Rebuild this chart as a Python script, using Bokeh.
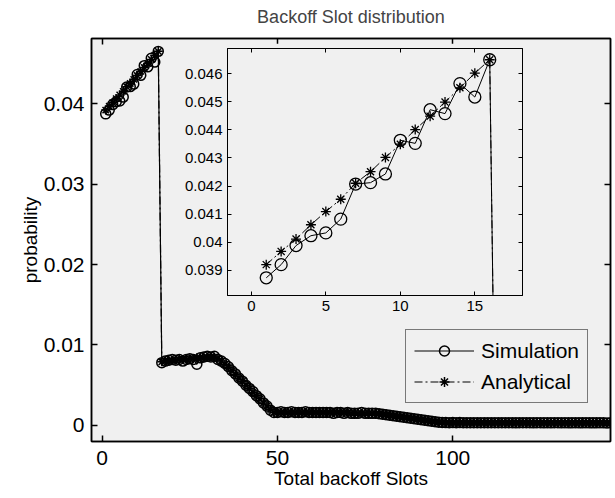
from bokeh.plotting import figure
from bokeh.models import (Range1d, FixedTicker, LinearAxis, PrintfTickFormatter, GridBox,
                          CustomLabelingPolicy)
from bokeh.embed import file_html
from bokeh.resources import INLINE

# ---------------- data ----------------
sim_values = [
    0.03873, 0.0392, 0.03988, 0.04023, 0.04033, 0.04082, 0.04207, 0.04212, 0.04243, 0.04363,
    0.04352, 0.04472, 0.04458, 0.04565, 0.04517, 0.0465, 0.0078, 0.0080, 0.0081, 0.0082,
    0.0081, 0.0082, 0.0080, 0.0082, 0.0083, 0.0082, 0.0076, 0.0084, 0.0085, 0.0086,
    0.0085, 0.0086, 0.0082, 0.0080, 0.0077, 0.0073, 0.0068, 0.0064, 0.0059, 0.0055,
    0.0050, 0.0046, 0.0042, 0.0037, 0.0033, 0.0028, 0.0024, 0.0019, 0.0016, 0.0016,
    0.0017, 0.0016, 0.0016, 0.0017, 0.0016, 0.0016, 0.0016, 0.0017, 0.0016, 0.0016,
    0.0016, 0.0016, 0.0016, 0.0016, 0.0016, 0.0015, 0.0016, 0.0016, 0.0015, 0.0016,
    0.0015, 0.0015, 0.0015, 0.0016, 0.0015, 0.0015, 0.0015, 0.0015, 0.00145, 0.0014,
    0.00134, 0.00127, 0.00121, 0.00114, 0.00108, 0.00101, 0.00096, 0.00089, 0.00083, 0.00077,
    0.0007, 0.00064, 0.00058, 0.00052, 0.00046, 0.0004, 0.00037, 0.00035, 0.00034, 0.00035,
    0.00034, 0.00035, 0.00034, 0.00033, 0.00034, 0.00034, 0.00033, 0.00034, 0.00033, 0.00034,
    0.00033, 0.00034, 0.00033, 0.00033, 0.00034, 0.00033, 0.00033, 0.00032, 0.00033, 0.00033,
    0.00034, 0.00033, 0.00032, 0.00033, 0.00033, 0.00032, 0.00033, 0.00032, 0.00033, 0.00033,
    0.00032, 0.00033, 0.00032, 0.00032, 0.00033, 0.00032, 0.00032, 0.00033, 0.00032, 0.00032,
    0.00032, 0.00033, 0.00032, 0.00031, 0.00032,
]
ana_values = [
    0.0392, 0.03967, 0.04011, 0.04062, 0.04109, 0.04153, 0.0421, 0.04251, 0.04302, 0.04349,
    0.04401, 0.04449, 0.04499, 0.0455, 0.04602, 0.0465, 0.0079, 0.0080, 0.0080, 0.0081,
    0.0081, 0.0082, 0.0082, 0.0082, 0.0083, 0.0083, 0.0084, 0.0084, 0.0084, 0.0085,
    0.0085, 0.0085, 0.0083, 0.0080, 0.0076, 0.0072, 0.0068, 0.0063, 0.0059, 0.0055,
    0.0050, 0.0046, 0.0041, 0.0037, 0.0033, 0.0028, 0.0024, 0.0020, 0.0016, 0.0016,
    0.0016, 0.0016, 0.0016, 0.0016, 0.0016, 0.0016, 0.0016, 0.0016, 0.0016, 0.0016,
    0.0016, 0.0016, 0.0016, 0.0016, 0.0016, 0.0016, 0.0016, 0.0016, 0.0016, 0.0016,
    0.0015, 0.0015, 0.0015, 0.0015, 0.0015, 0.0015, 0.0015, 0.0015, 0.00146, 0.0014,
    0.00133, 0.00127, 0.0012, 0.00114, 0.00108, 0.00102, 0.00095, 0.00089, 0.00083, 0.00077,
    0.00071, 0.00064, 0.00058, 0.00052, 0.00046, 0.0004, 0.00036, 0.00035, 0.00034, 0.00034,
    0.00034, 0.00034, 0.00034, 0.00034, 0.00033, 0.00033, 0.00033, 0.00033, 0.00033, 0.00033,
    0.00033, 0.00033, 0.00033, 0.00033, 0.00033, 0.00033, 0.00033, 0.00033, 0.00033, 0.00033,
    0.00033, 0.00033, 0.00032, 0.00032, 0.00032, 0.00032, 0.00032, 0.00032, 0.00032, 0.00032,
    0.00032, 0.00032, 0.00032, 0.00032, 0.00032, 0.00032, 0.00032, 0.00032, 0.00032, 0.00032,
    0.00032, 0.00032, 0.00032, 0.00032, 0.00032,
]
slots = list(range(1, len(sim_values) + 1))

main_xticks = [0, 50, 100]
main_xtick_labels = ["0", "50", "100"]
main_yticks = [0, 0.01, 0.02, 0.03, 0.04]
main_ytick_labels = ["0", "0.01", "0.02", "0.03", "0.04"]
inset_xticks = [0, 5, 10, 15]
inset_xtick_labels = ["0", "5", "10", "15"]
inset_yticks = [0.039, 0.04, 0.041, 0.042, 0.043, 0.044, 0.045, 0.046]
inset_ytick_labels = ["0.039", "0.04", "0.041", "0.042", "0.043", "0.044", "0.045", "0.046"]

FONT = "Liberation Sans"
BG = "#f0f0f0"


def style_axis(ax, ticks, labels, size, standoff, tick_len, lw, show=True):
    ax.ticker = FixedTicker(ticks=ticks)
    ax.formatter = PrintfTickFormatter(format="%g")
    ax.major_label_overrides = dict(zip(ticks, labels))
    ax.major_tick_in = tick_len
    ax.major_tick_out = 0
    ax.minor_tick_line_color = None
    ax.axis_line_width = lw
    ax.major_tick_line_width = lw
    ax.axis_line_color = "black"
    ax.major_tick_line_color = "black"
    ax.major_label_text_font = FONT
    ax.major_label_text_color = "black"
    if show:
        ax.major_label_text_font_size = f"{size}px"
        ax.major_label_standoff = standoff
    else:
        ax.major_label_text_font_size = "1px"
        ax.major_label_standoff = 0
        ax.major_label_policy = CustomLabelingPolicy(code="return new Set()")


# ---------------- main figure ----------------
p = figure(width=615, height=498, x_range=Range1d(-3.05, 145), y_range=Range1d(-0.002, 0.0481),
           output_backend="svg", toolbar_location=None,
           min_border_left=91, min_border_right=5, min_border_top=36, min_border_bottom=57,
           background_fill_color=BG, border_fill_color="white",
           title="Backoff Slot distribution")
p.title.align = "center"
p.title.vertical_align = "top"
p.title.text_font = FONT
p.title.text_font_size = "18px"
p.title.text_font_style = "normal"
p.title.standoff = 12
p.grid.visible = False
p.outline_line_color = "black"
p.outline_line_width = 1.5

style_axis(p.xaxis[0], main_xticks, main_xtick_labels, 21, 9, 6, 1.5)
style_axis(p.yaxis[0], main_yticks, main_ytick_labels, 21, 7, 6, 1.5)
p.xaxis.axis_label = "Total backoff Slots"
p.yaxis.axis_label = "probability"
for ax in (p.xaxis[0], p.yaxis[0]):
    ax.axis_label_text_font = FONT
    ax.axis_label_text_font_size = "19px"
    ax.axis_label_text_font_style = "normal"
    ax.axis_label_text_color = "black"
    ax.axis_label_standoff = 0

top_ax = LinearAxis()
right_ax = LinearAxis()
style_axis(top_ax, main_xticks, main_xtick_labels, 0, 0, 6, 1.5, show=False)
style_axis(right_ax, main_yticks, main_ytick_labels, 0, 0, 6, 1.5, show=False)
p.add_layout(top_ax, "above")
p.add_layout(right_ax, "right")

p.line(slots, sim_values, line_color="black", line_width=1.2, legend_label="Simulation")
p.scatter(slots, sim_values, marker="circle", size=10, fill_color=None, line_color="black",
          line_width=1.5, legend_label="Simulation")
p.line(slots, ana_values, line_color="black", line_width=1.2, line_dash="8 3 2 3",
       legend_label="Analytical")
p.scatter(slots, ana_values, marker="asterisk", size=9, line_color="black", line_width=1.5,
          legend_label="Analytical")

lg = p.legend[0]
lg.location = (314, 38)
lg.label_text_font = FONT
lg.label_text_font_size = "21px"
lg.label_text_color = "black"
lg.border_line_color = "black"
lg.border_line_width = 1.2
lg.background_fill_color = BG
lg.background_fill_alpha = 1
lg.glyph_width = 60
lg.glyph_height = 25
lg.label_standoff = 7
lg.padding = 8
lg.spacing = 6
lg.margin = 0

# ---------------- inset figure ----------------
inset = figure(width=347, height=280, x_range=Range1d(-1.6, 18.2), y_range=Range1d(0.0381, 0.0469),
               output_backend="svg", toolbar_location=None,
               min_border_left=44, min_border_right=4, min_border_top=5, min_border_bottom=28,
               background_fill_color=BG, border_fill_color=BG)
inset.grid.visible = False
inset.outline_line_color = "black"
inset.outline_line_width = 1
style_axis(inset.xaxis[0], inset_xticks, inset_xtick_labels, 15, 5, 4, 1)
style_axis(inset.yaxis[0], inset_yticks, inset_ytick_labels, 15, 5, 4, 1)
itop = LinearAxis()
iright = LinearAxis()
style_axis(itop, inset_xticks, inset_xtick_labels, 0, 0, 4, 1, show=False)
style_axis(iright, inset_yticks, inset_ytick_labels, 0, 0, 4, 1, show=False)
inset.add_layout(itop, "above")
inset.add_layout(iright, "right")

inset.line(slots, sim_values, line_color="black", line_width=1)
inset.scatter(slots, sim_values, marker="circle", size=12, fill_color=None, line_color="black",
              line_width=1.3)
inset.line(slots, ana_values, line_color="black", line_width=1, line_dash="8 3 2 3")
inset.scatter(slots, ana_values, marker="asterisk", size=10, line_color="black", line_width=1.3)

layout = GridBox(children=[(p, 0, 0, 3, 3), (inset, 1, 1)],
                 cols=["181px", "347px", "87px"], rows=["43px", "280px", "175px"])
open("out.html", "w").write(file_html(layout, INLINE))
